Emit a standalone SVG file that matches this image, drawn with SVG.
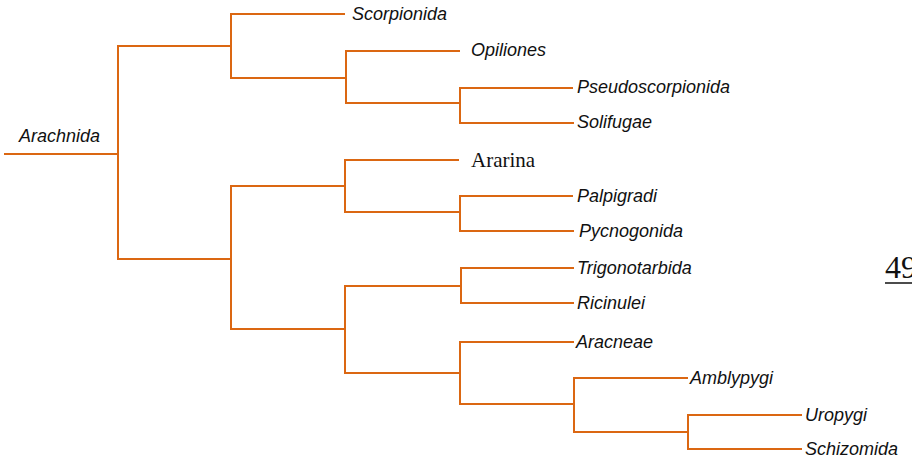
<svg xmlns="http://www.w3.org/2000/svg" width="912" height="463" viewBox="0 0 912 463">
<style>
.e{fill:none;stroke:#DB6712;stroke-width:2;stroke-linecap:square}
.t{font-family:"Liberation Sans",Arial,sans-serif;font-style:italic;font-size:18px;fill:#111}
.s{font-family:"Liberation Serif","Times New Roman",serif;font-size:21px;fill:#111}
</style>
<rect width="912" height="463" fill="#fff"/>
<g id="connectors">
<path class="e" d="M5,154H118M118,46V259M118,46H231M231,14V78M231,14H344M231,78H346M346,51V103M346,51H459M346,103H460M460,88V123M460,88H572M460,123H573"/>
<path class="e" d="M118,259H231M231,186V329M231,186H345M345,160V212M345,160H458M345,212H460M460,196V231M460,196H572M460,231H573"/>
<path class="e" d="M231,329H345M345,286V373M345,286H461M461,268V303M461,268H573M461,303H573M345,373H460M460,342V404M460,342H573M460,404H574M574,378V432M574,378H687M574,432H688M688,415V449M688,415H801M688,449H801"/>
</g>
<g id="Arachnida"><text class="t" x="19" y="142">Arachnida</text></g>
<g id="Scorpionida"><text class="t" x="352" y="20">Scorpionida</text></g>
<g id="Opiliones"><text class="t" x="471" y="56">Opiliones</text></g>
<g id="Pseudoscorpionida"><text class="t" x="577" y="93">Pseudoscorpionida</text></g>
<g id="Solifugae"><text class="t" x="577" y="128">Solifugae</text></g>
<g id="Ararina"><text class="s" x="471" y="167">Ararina</text></g>
<g id="Palpigradi"><text class="t" x="577" y="202">Palpigradi</text></g>
<g id="Pycnogonida"><text class="t" x="579" y="237">Pycnogonida</text></g>
<g id="Trigonotarbida"><text class="t" x="577" y="274">Trigonotarbida</text></g>
<g id="Ricinulei"><text class="t" x="577" y="309">Ricinulei</text></g>
<g id="Aracneae"><text class="t" x="576" y="348">Aracneae</text></g>
<g id="Amblypygi"><text class="t" x="690" y="384">Amblypygi</text></g>
<g id="Uropygi"><text class="t" x="805" y="421">Uropygi</text></g>
<g id="Schizomida"><text class="t" x="805" y="455">Schizomida</text></g>
<g id="page-number"><text class="s" x="885" y="278" style="font-size:32px">49</text><line x1="885" y1="283" x2="912" y2="283" stroke="#111" stroke-width="1.5"/></g>
</svg>
